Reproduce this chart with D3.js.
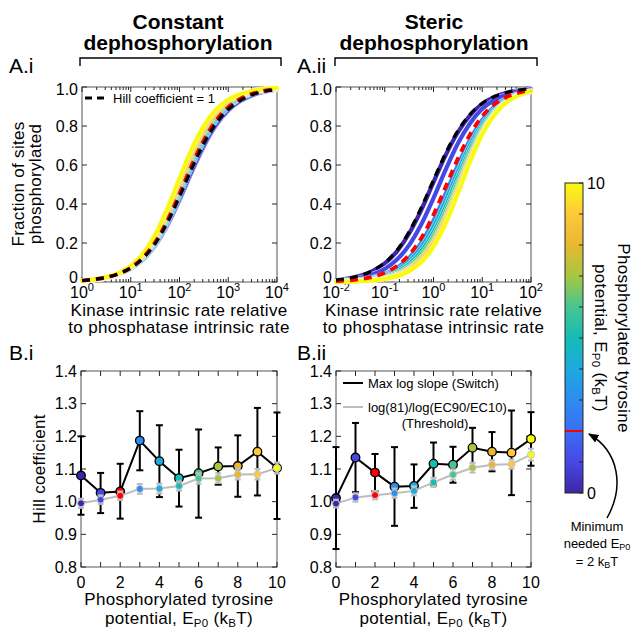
<!DOCTYPE html>
<html><head><meta charset="utf-8">
<script src="https://cdn.jsdelivr.net/npm/d3@7"></script>
<style>
body{margin:0;background:#fff}
svg{display:block}
text{font-family:"Liberation Sans",Arial,Helvetica,sans-serif;fill:#000}
.lbl{letter-spacing:0.3px}
</style>
</head><body>
<svg id="chart" width="634" height="629"></svg>
<script>
// ---------------- DATA ----------------
const energies = [0,1,2,3,4,5,6,7,8,9,10];
const energyColors = ["#3e26a8","#4648e4","#3b6ff5","#2d8cf0","#1ea9df","#14bcb4","#48c590","#a5c840","#e9b731","#fcc93a","#f9fb0e"];
const highlightEnergyIndex = 2;
const highlightColor = "#ff0000";

// Panel A.i : constant dephosphorylation
const rateConstant = [1,1.778,3.162,5.623,10,17.78,31.62,56.23,100,177.8,316.2,562.3,1000,1778,3162,5623,10000];
const fracConstant = [
  [0.0072,0.0127,0.022,0.039,0.068,0.114,0.186,0.290,0.420,0.563,0.696,0.803,0.879,0.928,0.958,0.976,0.986],
  [0.0070,0.0125,0.022,0.039,0.068,0.114,0.188,0.292,0.425,0.569,0.703,0.809,0.883,0.931,0.960,0.977,0.987],
  [0.0075,0.0134,0.024,0.042,0.073,0.125,0.204,0.315,0.453,0.598,0.728,0.828,0.897,0.940,0.966,0.981,0.989],
  [0.0065,0.0118,0.021,0.038,0.067,0.115,0.192,0.302,0.440,0.589,0.723,0.826,0.896,0.940,0.966,0.981,0.990],
  [0.0068,0.0123,0.022,0.040,0.070,0.121,0.200,0.312,0.452,0.601,0.732,0.833,0.901,0.943,0.968,0.982,0.990],
  [0.0068,0.0124,0.022,0.040,0.071,0.124,0.205,0.321,0.464,0.613,0.743,0.841,0.907,0.947,0.970,0.983,0.991],
  [0.0068,0.0125,0.023,0.041,0.073,0.127,0.211,0.330,0.476,0.626,0.755,0.850,0.912,0.950,0.972,0.985,0.992],
  [0.0069,0.0126,0.023,0.042,0.075,0.130,0.217,0.340,0.488,0.638,0.766,0.858,0.918,0.954,0.975,0.986,0.992],
  [0.0069,0.0127,0.023,0.043,0.077,0.134,0.224,0.349,0.500,0.651,0.776,0.866,0.923,0.957,0.977,0.987,0.993],
  [0.0069,0.0128,0.024,0.044,0.079,0.138,0.231,0.360,0.513,0.663,0.787,0.873,0.928,0.960,0.978,0.988,0.994],
  [0.0071,0.0133,0.025,0.046,0.083,0.145,0.242,0.376,0.532,0.681,0.801,0.884,0.935,0.964,0.981,0.990,0.994]
];
const hillOneConstant = [0.0077,0.0136,0.024,0.042,0.072,0.121,0.197,0.304,0.437,0.580,0.711,0.814,0.886,0.932,0.961,0.978,0.987];

// Panel A.ii : steric dephosphorylation
const rateSteric = [0.01,0.01778,0.03162,0.05623,0.1,0.1778,0.3162,0.5623,1,1.778,3.162,5.623,10,17.78,31.62,56.23,100];
const fracSteric = [
  [0.010,0.018,0.032,0.056,0.095,0.157,0.249,0.370,0.512,0.651,0.768,0.855,0.913,0.949,0.971,0.983,0.991],
  [0.0068,0.012,0.022,0.039,0.067,0.115,0.189,0.296,0.430,0.576,0.710,0.814,0.888,0.934,0.962,0.979,0.988],
  [0.0046,0.0082,0.0148,0.026,0.047,0.082,0.139,0.225,0.345,0.488,0.633,0.757,0.850,0.911,0.949,0.971,0.984],
  [0.0040,0.0071,0.0129,0.023,0.041,0.072,0.123,0.202,0.314,0.453,0.599,0.730,0.831,0.899,0.941,0.967,0.981],
  [0.0033,0.0059,0.0107,0.0193,0.035,0.061,0.106,0.178,0.282,0.417,0.565,0.703,0.812,0.887,0.934,0.963,0.979],
  [0.0026,0.0048,0.0087,0.0159,0.029,0.052,0.092,0.157,0.255,0.386,0.537,0.681,0.797,0.878,0.930,0.961,0.978],
  [0.0021,0.0039,0.0072,0.0134,0.025,0.045,0.080,0.140,0.233,0.361,0.513,0.662,0.785,0.872,0.927,0.959,0.978],
  [0.0017,0.0033,0.0061,0.0115,0.021,0.040,0.072,0.127,0.216,0.341,0.494,0.647,0.776,0.867,0.925,0.958,0.978],
  [0.0016,0.0029,0.0056,0.0105,0.020,0.037,0.067,0.120,0.205,0.328,0.481,0.637,0.769,0.863,0.923,0.958,0.977],
  [0.0014,0.0026,0.0050,0.0095,0.018,0.034,0.063,0.113,0.195,0.316,0.468,0.626,0.762,0.859,0.921,0.957,0.977],
  [0.0011,0.0021,0.0041,0.0080,0.0154,0.029,0.056,0.102,0.181,0.300,0.454,0.617,0.758,0.858,0.922,0.958,0.978]
];
const hillOneSteric = [0.011,0.019,0.034,0.058,0.099,0.163,0.258,0.382,0.523,0.661,0.776,0.860,0.916,0.951,0.972,0.984,0.991];

// Panel B.i : Hill coefficients, constant dephosphorylation
const switchConstant   = [1.080,1.027,1.031,1.187,1.124,1.072,1.087,1.108,1.109,1.153,1.103];
const switchConstantLo = [0.960,0.965,0.948,1.096,1.014,0.985,0.951,1.052,1.015,1.019,0.947];
const switchConstantHi = [1.200,1.088,1.116,1.277,1.234,1.159,1.221,1.166,1.203,1.287,1.273];
const thresholdConstant    = [0.995,1.006,1.018,1.039,1.040,1.048,1.071,1.072,1.083,1.084,1.103];
const thresholdConstantErr = [0.014,0.013,0.013,0.015,0.015,0.014,0.016,0.015,0.015,0.016,0.017];

// Panel B.ii : Hill coefficients, steric dephosphorylation
const switchSteric   = [1.011,1.135,1.089,1.046,1.048,1.116,1.113,1.165,1.153,1.150,1.192];
const switchStericLo = [0.855,1.029,1.032,0.926,0.981,1.052,1.058,1.105,1.093,1.020,1.110];
const switchStericHi = [1.167,1.241,1.146,1.167,1.114,1.181,1.168,1.226,1.213,1.279,1.274];
const thresholdSteric    = [0.994,1.013,1.020,1.026,1.033,1.059,1.083,1.104,1.113,1.115,1.144];
const thresholdStericErr = [0.012,0.013,0.013,0.014,0.014,0.014,0.016,0.015,0.014,0.014,0.018];

// Tick labels
const fracTicks = [0,0.2,0.4,0.6,0.8,1.0];
const fracTickLabels = ["0","0.2","0.4","0.6","0.8","1.0"];
const hillTicks = [0.8,0.9,1.0,1.1,1.2,1.3,1.4];
const hillTickLabels = ["0.8","0.9","1.0","1.1","1.2","1.3","1.4"];
const energyTickLabels = [0,2,4,6,8,10];
const colorbarTickLabels = [0,10];

// ---------------- DRAWING ----------------
const svg = d3.select("#chart");
const AXC = "#262626";
const LABEL = 17;

function txt(g, x, y, s, size, anchor) {
  return g.append("text").attr("x", x).attr("y", y).attr("font-size", size)
    .attr("text-anchor", anchor || "start").text(s);
}

function drawBox(xScale, yScale, xMajor, xMinor, yMajor) {
  const [xa, xb] = xScale.range();
  const [ya, yb] = yScale.range();
  const g = svg.append("g");
  g.append("rect").attr("x", xa).attr("y", yb).attr("width", xb - xa).attr("height", ya - yb)
    .attr("fill", "none").attr("stroke", "#555").attr("stroke-width", 1);
  const t = g.append("g").attr("stroke", AXC).attr("stroke-width", 1);
  function xt(v, len) {
    const x = xScale(v);
    t.append("line").attr("x1", x).attr("x2", x).attr("y1", ya).attr("y2", ya - len);
    t.append("line").attr("x1", x).attr("x2", x).attr("y1", yb).attr("y2", yb + len);
  }
  xMajor.forEach(v => xt(v, 5));
  xMinor.forEach(v => xt(v, 3));
  yMajor.forEach(v => {
    const y = yScale(v);
    t.append("line").attr("x1", xa).attr("x2", xa + 5).attr("y1", y).attr("y2", y);
    t.append("line").attr("x1", xb).attr("x2", xb - 5).attr("y1", y).attr("y2", y);
  });
}

function drawA(xScale, yScale, rates, fracs, hillOne) {
  const major = xScale.ticks().filter(v => Math.abs(Math.log10(v) - Math.round(Math.log10(v))) < 1e-9);
  const minor = xScale.ticks().filter(v => !major.includes(v));
  drawBox(xScale, yScale, major, minor, fracTicks);
  const [ya] = yScale.range();
  const [xa] = xScale.range();
  const last = fracTicks.length - 1;
  fracTicks.forEach((v, i) => {
    const nudge = i === 0 ? -4.5 : (i === last ? 2.5 : 0.5);
    txt(svg, xa - 4, yScale(v) + nudge, fracTickLabels[i], 16, "end").attr("dy", "0.36em");
  });
  major.forEach(v => {
    const t = svg.append("text").attr("x", xScale(v)).attr("y", ya + 15.5).attr("font-size", 16).attr("text-anchor", "middle");
    t.append("tspan").text("10");
    t.append("tspan").attr("dy", -7).attr("font-size", 11).text(String(Math.round(Math.log10(v))));
  });
  const line = d3.line().x((d, i) => xScale(rates[i])).y(d => yScale(d)).curve(d3.curveMonotoneX);
  const g = svg.append("g").attr("fill", "none").attr("stroke-linecap", "round").attr("stroke-linejoin", "round");
  fracs.forEach((f, i) => {
    if (i === highlightEnergyIndex) return;
    g.append("path").attr("d", line(f)).attr("stroke", "#ffffff").attr("stroke-width", 5.2).attr("stroke-opacity", 0.8);
    g.append("path").attr("d", line(f)).attr("stroke", energyColors[i]).attr("stroke-width", 4.2);
  });
  g.append("path").attr("d", line(fracs[highlightEnergyIndex])).attr("stroke", highlightColor)
    .attr("stroke-width", 3.8).attr("stroke-dasharray", "8,6").attr("stroke-linecap", "butt");
  g.append("path").attr("d", line(hillOne)).attr("stroke", "#000").attr("stroke-width", 3.2)
    .attr("stroke-dasharray", "8,6").attr("stroke-linecap", "butt");
}

function drawB(xScale, yScale, sw, swLo, swHi, th, thErr) {
  drawBox(xScale, yScale, energies, [], hillTicks);
  const [ya] = yScale.range();
  const [xa] = xScale.range();
  hillTicks.forEach((v, i) => txt(svg, xa - 4, yScale(v), hillTickLabels[i], 16, "end").attr("dy", "0.36em"));
  energyTickLabels.forEach(v => txt(svg, xScale(v), ya + 21, String(v), 16, "middle"));

  const g = svg.append("g");
  const eb = g.append("g").attr("stroke", "#000").attr("stroke-width", 2);
  energies.forEach((e, i) => {
    const x = xScale(e);
    eb.append("line").attr("x1", x).attr("x2", x).attr("y1", yScale(swLo[i])).attr("y2", yScale(swHi[i]));
    [swLo[i], swHi[i]].forEach(v => eb.append("line").attr("x1", x - 3.5).attr("x2", x + 3.5).attr("y1", yScale(v)).attr("y2", yScale(v)));
  });
  const line = d3.line().x((d, i) => xScale(energies[i])).y(d => yScale(d));
  g.append("path").attr("d", line(sw)).attr("fill", "none").attr("stroke", "#000").attr("stroke-width", 2);
  energies.forEach((e, i) => {
    g.append("circle").attr("cx", xScale(e)).attr("cy", yScale(sw[i])).attr("r", 4.3)
      .attr("fill", i === highlightEnergyIndex ? highlightColor : energyColors[i])
      .attr("stroke", "#000").attr("stroke-width", 1.3);
  });
  const gb = g.append("g").attr("stroke", "#bdbdbd").attr("stroke-width", 2);
  energies.forEach((e, i) => {
    const x = xScale(e);
    const lo = th[i] - thErr[i], hi = th[i] + thErr[i];
    gb.append("line").attr("x1", x).attr("x2", x).attr("y1", yScale(lo)).attr("y2", yScale(hi));
    [lo, hi].forEach(v => gb.append("line").attr("x1", x - 3).attr("x2", x + 3).attr("y1", yScale(v)).attr("y2", yScale(v)));
  });
  g.append("path").attr("d", line(th)).attr("fill", "none").attr("stroke", "#bdbdbd").attr("stroke-width", 2);
  energies.forEach((e, i) => {
    g.append("circle").attr("cx", xScale(e)).attr("cy", yScale(th[i])).attr("r", 3.5)
      .attr("fill", i === highlightEnergyIndex ? highlightColor : energyColors[i])
      .attr("stroke", "#c8c8c8").attr("stroke-width", 1);
  });
}

// Scales
const yA = d3.scaleLinear().domain([0, 1]).range([282, 87]);
const xA1 = d3.scaleLog().domain([rateConstant[0], rateConstant[rateConstant.length - 1]]).range([82, 277]);
const xA2 = d3.scaleLog().domain([rateSteric[0], rateSteric[rateSteric.length - 1]]).range([336, 531]);
const yB = d3.scaleLinear().domain([0.8, 1.4]).range([567, 371]);
const xB1 = d3.scaleLinear().domain([0, 10]).range([81, 277]);
const xB2 = d3.scaleLinear().domain([0, 10]).range([336, 531]);

drawA(xA1, yA, rateConstant, fracConstant, hillOneConstant);
drawA(xA2, yA, rateSteric, fracSteric, hillOneSteric);
drawB(xB1, yB, switchConstant, switchConstantLo, switchConstantHi, thresholdConstant, thresholdConstantErr);
drawB(xB2, yB, switchSteric, switchStericLo, switchStericHi, thresholdSteric, thresholdStericErr);

// Legend A.i
svg.append("line").attr("x1", 85).attr("x2", 106).attr("y1", 98).attr("y2", 98)
  .attr("stroke", "#000").attr("stroke-width", 3).attr("stroke-dasharray", "7,5");
txt(svg, 113, 102.5, "Hill coefficient = 1", 13);

// Legend B.ii
svg.append("line").attr("x1", 343).attr("x2", 363).attr("y1", 383).attr("y2", 383).attr("stroke", "#000").attr("stroke-width", 2);
txt(svg, 368, 387.5, "Max log slope (Switch)", 13);
svg.append("line").attr("x1", 343).attr("x2", 363).attr("y1", 407).attr("y2", 407).attr("stroke", "#bdbdbd").attr("stroke-width", 2);
txt(svg, 368, 411.5, "log(81)/log(EC90/EC10)", 13);
txt(svg, 435, 428, "(Threshold)", 13, "middle");

// Titles and brackets
txt(svg, 178, 29, "Constant", 21, "middle").attr("font-weight", "bold");
txt(svg, 178, 50, "dephosphorylation", 21, "middle").attr("font-weight", "bold");
txt(svg, 434, 29, "Steric", 21, "middle").attr("font-weight", "bold");
txt(svg, 434, 50, "dephosphorylation", 21, "middle").attr("font-weight", "bold");
[[80, 281], [335, 537]].forEach(([a, b]) => {
  svg.append("path").attr("d", `M${a},66V58H${b}V66`).attr("fill", "none").attr("stroke", "#000").attr("stroke-width", 1.4);
});

// Panel labels
txt(svg, 9, 73, "A.i", 21);
txt(svg, 297, 73, "A.ii", 21);
txt(svg, 9, 360, "B.i", 21);
txt(svg, 297, 360, "B.ii", 21);

// Axis labels A
[179, 433.5].forEach(cx => {
  txt(svg, cx, 315.5, "Kinase intrinsic rate relative", LABEL, "middle").attr("class", "lbl");
  txt(svg, cx, 333, "to phosphatase intrinsic rate", LABEL, "middle").attr("class", "lbl");
});
const yl = svg.append("g").attr("transform", "translate(24,184) rotate(-90)");
txt(yl, 0, 0, "Fraction of sites", LABEL, "middle").attr("class", "lbl");
txt(yl, 0, 16.5, "phosphorylated", LABEL, "middle").attr("class", "lbl");

// Axis labels B
function energyLabel(g, x, y, size, subSize) {
  const t = g.append("text").attr("x", x).attr("y", y).attr("font-size", size).attr("text-anchor", "middle").attr("class", "lbl");
  t.append("tspan").text("potential, E");
  t.append("tspan").attr("font-size", subSize).attr("dy", 3).text("P0");
  t.append("tspan").attr("dy", -3).text(" (k");
  t.append("tspan").attr("font-size", subSize).attr("dy", 3).text("B");
  t.append("tspan").attr("dy", -3).text("T)");
  return t;
}
[179, 433.5].forEach(cx => {
  txt(svg, cx, 605, "Phosphorylated tyrosine", LABEL, "middle").attr("class", "lbl");
  energyLabel(svg, cx, 624, LABEL, 11.5);
});
const hl = svg.append("g").attr("transform", "translate(45,469) rotate(-90)");
txt(hl, 0, 0, "Hill coefficient", LABEL, "middle").attr("class", "lbl");

// Colorbar
const cbX0 = 565, cbX1 = 583;
const yCb = d3.scaleLinear().domain([0, 10]).range([493, 183]);
const defs = svg.append("defs");
const grad = defs.append("linearGradient").attr("id", "parula").attr("x1", 0).attr("y1", 1).attr("x2", 0).attr("y2", 0);
energies.forEach((e, i) => grad.append("stop").attr("offset", e / 10).attr("stop-color", energyColors[i]));
svg.append("rect").attr("x", cbX0).attr("y", yCb(10)).attr("width", cbX1 - cbX0).attr("height", yCb(0) - yCb(10))
  .attr("fill", "url(#parula)");
const cbt = svg.append("g").attr("stroke", AXC).attr("stroke-width", 1);
energies.forEach(e => cbt.append("line").attr("x1", cbX1).attr("x2", cbX1 - 4).attr("y1", yCb(e)).attr("y2", yCb(e)));
svg.append("line").attr("x1", cbX0).attr("x2", cbX1).attr("y1", yCb(energies[highlightEnergyIndex])).attr("y2", yCb(energies[highlightEnergyIndex]))
  .attr("stroke", highlightColor).attr("stroke-width", 2);
svg.append("rect").attr("x", cbX0).attr("y", yCb(10)).attr("width", cbX1 - cbX0).attr("height", yCb(0) - yCb(10))
  .attr("fill", "none").attr("stroke", AXC).attr("stroke-width", 1);
colorbarTickLabels.forEach(v => txt(svg, 587, yCb(v), String(v), 16).attr("dy", "0.36em"));
const cbl1 = svg.append("g").attr("transform", "translate(618,338) rotate(90)");
txt(cbl1, 0, 0, "Phosphorylated tyrosine", LABEL, "middle").attr("class", "lbl");
const cbl2 = svg.append("g").attr("transform", "translate(595,338) rotate(90)");
energyLabel(cbl2, 0, 0, LABEL, 11.5);

// Annotation arrow
defs.append("marker").attr("id", "ah").attr("viewBox", "0 0 10 10").attr("refX", 9).attr("refY", 5)
  .attr("markerWidth", 7).attr("markerHeight", 7).attr("orient", "auto")
  .append("path").attr("d", "M0,1L10,5L0,9Z").attr("fill", "#000");
svg.append("path").attr("d", "M607,518C624,488 620,452 589,434").attr("fill", "none")
  .attr("stroke", "#000").attr("stroke-width", 1.5).attr("marker-end", "url(#ah)");
txt(svg, 597, 531, "Minimum", 13, "middle");
const n1 = svg.append("text").attr("x", 597).attr("y", 548).attr("font-size", 13).attr("text-anchor", "middle");
n1.append("tspan").text("needed E");
n1.append("tspan").attr("font-size", 9).attr("dy", 2).text("P0");
const n2 = svg.append("text").attr("x", 597).attr("y", 566).attr("font-size", 13).attr("text-anchor", "middle");
n2.append("tspan").text("= 2 k");
n2.append("tspan").attr("font-size", 9).attr("dy", 2).text("B");
n2.append("tspan").attr("dy", -2).text("T");
</script>
</body></html>
